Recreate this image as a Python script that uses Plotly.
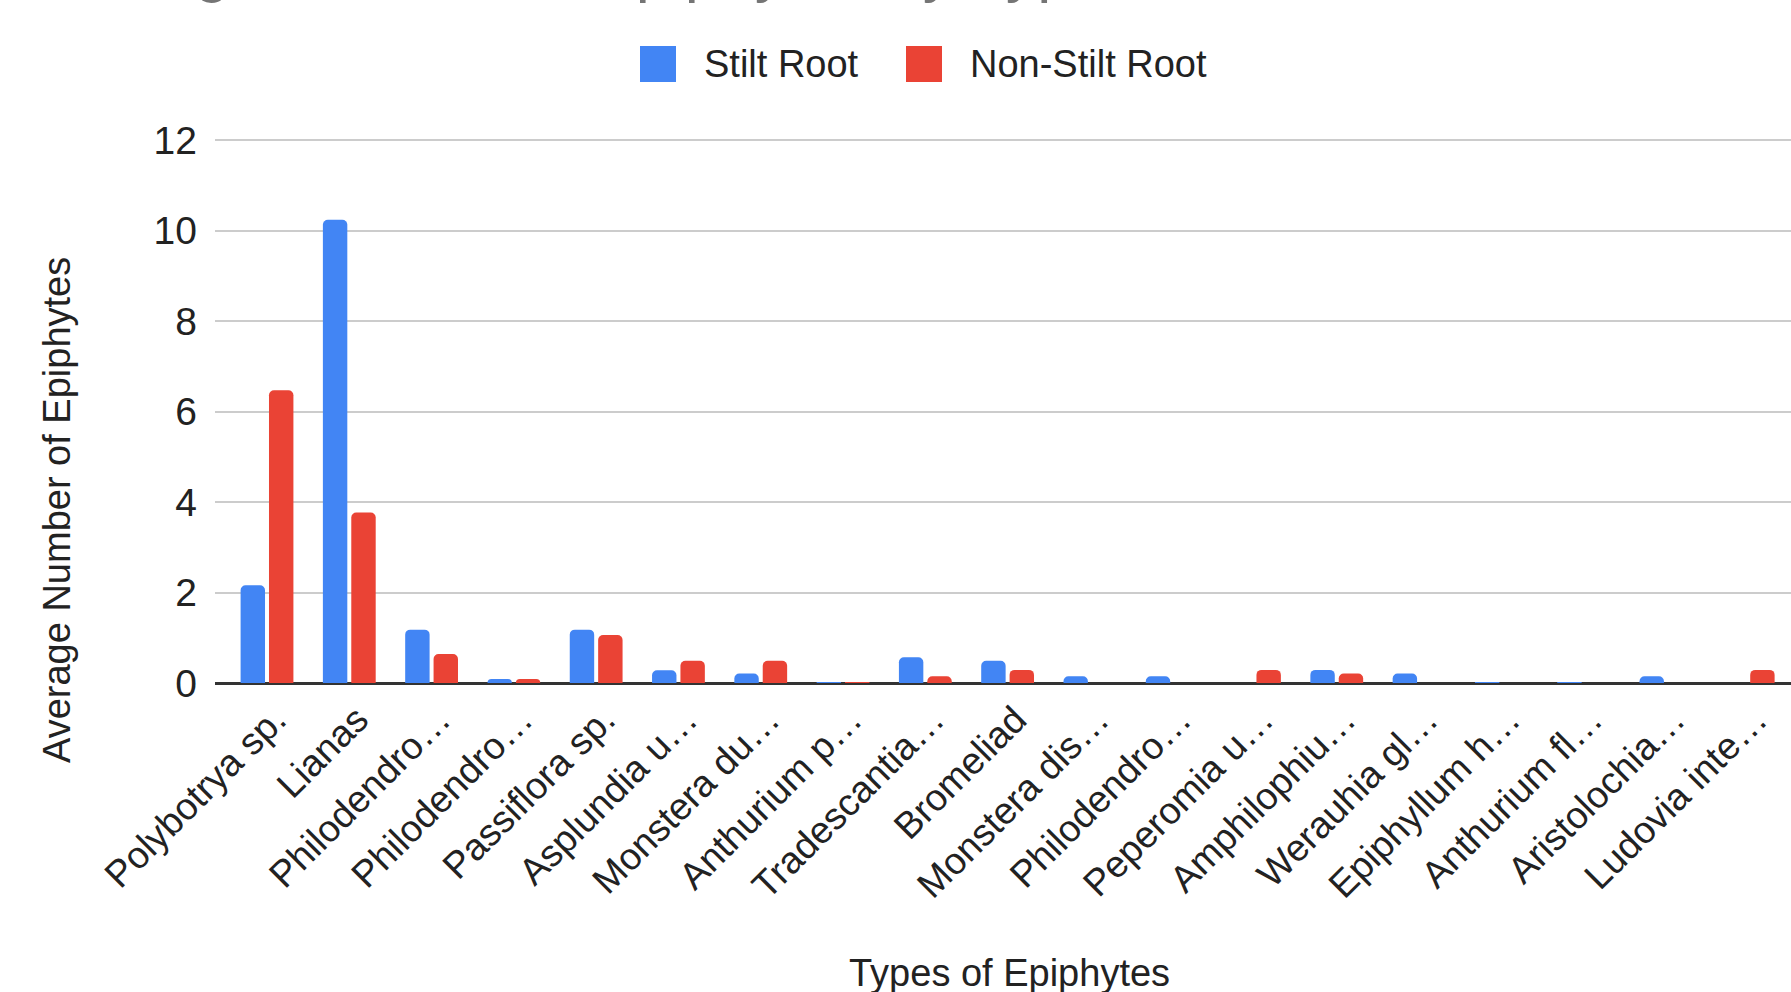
import plotly.graph_objects as go

# ---------------- data ----------------
categories = [
    "Polybotrya sp.", "Lianas", "Philodendro…", "Philodendro…", "Passiflora sp.",
    "Asplundia u…", "Monstera du…", "Anthurium p…", "Tradescantia…", "Bromeliad",
    "Monstera dis…", "Philodendro…", "Peperomia u…", "Amphilophiu…", "Werauhia gl…",
    "Epiphyllum h…", "Anthurium fl…", "Aristolochia…", "Ludovia inte…",
]
stilt_root = [2.16, 10.24, 1.18, 0.09, 1.18, 0.28, 0.21, 0.02, 0.57, 0.49,
              0.15, 0.15, 0.0, 0.29, 0.21, 0.02, 0.02, 0.15, 0.0]
non_stilt_root = [6.47, 3.77, 0.64, 0.09, 1.06, 0.49, 0.49, 0.02, 0.15, 0.29,
                  0.0, 0.0, 0.29, 0.21, 0.0, 0.0, 0.0, 0.0, 0.29]
series_names = ["Stilt Root", "Non-Stilt Root"]
y_ticks = [0, 2, 4, 6, 8, 10, 12]

title_text = "Average Number of Epiphytes by Type of Root"
x_title = "Types of Epiphytes"
y_title = "Average Number of Epiphytes"

# ---------------- style ----------------
BLUE = "#4285F4"
RED = "#EA4335"
FONT = "Arial, 'Liberation Sans', sans-serif"
W, H = 1791, 992
ML, MR, MT, MB = 215, 0, 138, 309

xpos = list(range(len(categories)))

fig = go.Figure()
fig.add_trace(go.Bar(x=xpos, y=stilt_root, name=series_names[0],
                     marker=dict(color=BLUE, cornerradius=5, line=dict(width=0)),
                     showlegend=False))
fig.add_trace(go.Bar(x=xpos, y=non_stilt_root, name=series_names[1],
                     marker=dict(color=RED, cornerradius=5, line=dict(width=0)),
                     showlegend=False))

pw = W - ML - MR
ph = H - MT - MB


def px_x(X):
    return (X - ML) / pw


def px_y(Y):
    return (H - MB - Y) / ph


# manual legend (large square swatches like the original)
shapes = []
annotations = []
legend_items = [(series_names[0], BLUE, 640, 702), (series_names[1], RED, 906, 968)]
for name, col, sx, tx in legend_items:
    shapes.append(dict(type="rect", xref="paper", yref="paper",
                       x0=px_x(sx), x1=px_x(sx + 36), y0=px_y(82), y1=px_y(46),
                       fillcolor=col, line=dict(width=0), layer="above"))
    annotations.append(dict(xref="paper", yref="paper", x=px_x(tx), y=px_y(64),
                            xanchor="left", yanchor="middle", showarrow=False,
                            text=name, font=dict(family=FONT, size=38, color="#222222")))

# y-axis title (positioned like the original, below the plot's centre)
annotations.append(dict(xref="paper", yref="paper", x=px_x(57), y=px_y(510),
                        xanchor="center", yanchor="middle", showarrow=False, textangle=-90,
                        text=y_title, font=dict(family=FONT, size=38, color="#222222")))

# x-axis title
annotations.append(dict(xref="paper", yref="paper", x=px_x(1009), y=px_y(973),
                        xanchor="center", yanchor="middle", showarrow=False,
                        text=x_title, font=dict(family=FONT, size=38, color="#222222")))

# title (cropped off at the top in the original image)
annotations.append(dict(xref="paper", yref="paper", x=px_x(29), y=px_y(5),
                        xanchor="left", yanchor="bottom", showarrow=False,
                        text=title_text, font=dict(family=FONT, size=63, color="#757575")))

fig.update_layout(
    width=W, height=H,
    margin=dict(l=ML, r=MR, t=MT, b=MB, autoexpand=False),
    paper_bgcolor="white", plot_bgcolor="white",
    barmode="group", bargap=0.31, bargroupgap=0.14,
    font=dict(family=FONT, color="#222222"),
    shapes=shapes, annotations=annotations,
    showlegend=False,
)
fig.update_xaxes(
    tickmode="array", tickvals=xpos, ticktext=categories, tickangle=-45,
    range=[-0.632, 18.52], showgrid=False, zeroline=False, showline=False,
    ticks="", ticklabelshift=8, ticklabelstandoff=6,
    tickfont=dict(family=FONT, size=37.5, color="#222222"),
    automargin=False,
)
fig.update_yaxes(
    range=[0, 12.05], tickmode="array", tickvals=y_ticks,
    showgrid=True, gridcolor="#cccccc", gridwidth=2,
    zeroline=True, zerolinecolor="#333333", zerolinewidth=3,
    showline=False, ticks="", ticklabelstandoff=17,
    tickfont=dict(family=FONT, size=39, color="#222222"),
    automargin=False,
)

fig.write_html("out.html", config={"displayModeBar": False},
               post_script="document.body.style.margin='0';document.body.style.overflow='hidden';")
